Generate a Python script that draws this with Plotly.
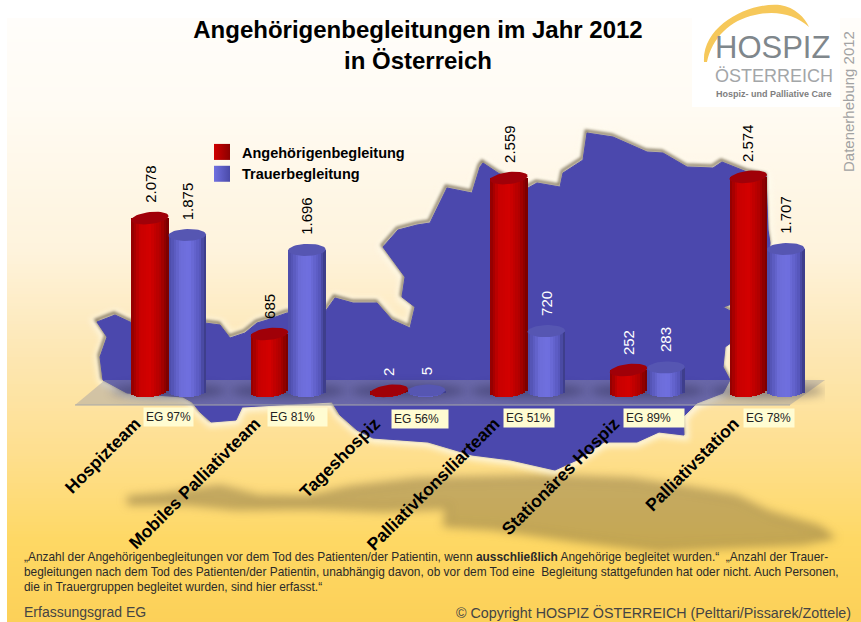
import math
import plotly.graph_objects as go

# ---- data ----
categories = ["Hospizteam", "Mobiles Palliativteam", "Tageshospiz",
              "Palliativkonsiliarteam", "Stationäres Hospiz", "Palliativstation"]
angehoerige = [2078, 685, 2, 2559, 252, 2574]
trauer = [1875, 1696, 5, 720, 283, 1707]
erfassungsgrad = [97, 81, 56, 51, 89, 78]
series_names = ["Angehörigenbegleitung", "Trauerbegleitung"]

title_text = "Angehörigenbegleitungen im Jahr 2012<br>in Österreich"
note_lines = [
    "„Anzahl der Angehörigenbegleitungen vor dem Tod des Patienten/der Patientin, wenn <b>ausschließlich</b> Angehörige begleitet wurden.“  „Anzahl der Trauer-",
    "begleitungen nach dem Tod des Patienten/der Patientin, unabhängig davon, ob vor dem Tod eine  Begleitung stattgefunden hat oder nicht. Auch Personen,",
    "die in Trauergruppen begleitet wurden, sind hier erfasst.“",
]

# ---- canvas / plot frame ----
W, H = 861, 622
ML, MR, MT, MB = 75, 36, 100, 217
PW, PH = W - ML - MR, H - MT - MB
FONT = "Liberation Sans"

def px(x):
    return (x - ML) / PW
def py(y):
    return 1 - (y - MT) / PH

# map outline and its shadow on the ground (backdrop artwork, canvas pixels)
map_outline = [(97,322),(115,315),(130,322),(150,330),(205,323),(220,325),(230,338),(245,333),(257,323),
    (267,320),(287,313),(325,312),(335,298),(353,303),(377,303),(392,320),(410,328),(415,307),(402,297),
    (405,277),(383,247),(398,230),(417,225),(430,223),(447,188),(472,193),(480,167),(483,163),(498,173),
    (528,188),(537,183),(560,187),(563,173),(583,160),(587,133),(613,137),(647,152),(663,153),(687,167),
    (713,168),(722,162),(747,172),(766,176),(768,230),(770,243),(765,300),(735,303),(723,307),(732,312),
    (735,340),(725,347),(723,367),(730,380),(723,393),(697,403),(683,417),(684,435),(659,432),(637,442),
    (604,442),(577,460),(555,470),(511,460),(472,455),(428,442),(373,438),(357,430),(340,415),(332,402),
    (242,407),(236,420),(211,422),(200,412),(192,402),(183,397),(127,393),(103,380),(100,357),(107,337)]
ground_shadow = [(129,498),(165,495),(220,487),(258,497),(307,498),(351,488),(417,480),(549,477),(632,480),
    (697,490),(736,497),(769,513),(818,527),(832,537),(802,543),(714,547),(659,550),(577,540),(494,528),
    (445,525),(448,507),(384,510),(307,507),(236,508),(187,503),(129,503)]
floor_plane = [(75,405),(105,380),(825,380),(790,405)]
axis_line = [(75,405),(790,405)]

def path(points, dx=0, dy=0, close=True):
    return "M" + "L".join(f"{px(x+dx):.5f},{py(y+dy):.5f}" for x, y in points) + ("Z" if close else "")

def mix(stops, t):
    for (a, ca), (b, cb) in zip(stops, stops[1:]):
        if t <= b:
            f = (t - a) / (b - a) if b > a else 0
            c = [round(ca[k] + (cb[k] - ca[k]) * f) for k in range(3)]
            return f"rgb({c[0]},{c[1]},{c[2]})"
    c = stops[-1][1]
    return f"rgb({c[0]},{c[1]},{c[2]})"

shapes = []
blur = {}
def rect(x0, y0, x1, y1, color):
    shapes.append(dict(type="rect", xref="paper", yref="paper", x0=px(x0), x1=px(x1), y0=py(y0), y1=py(y1),
                       fillcolor=color, line_width=0, layer="below"))
def free(d, fill, line=None, lw=0, radius=None):
    if radius:
        blur[len(shapes)] = radius
    shapes.append(dict(type="path", xref="paper", yref="paper", path=d, layer="below", fillcolor=fill,
                       line=dict(color=line or "rgba(0,0,0,0)", width=lw)))

# background
bg_stops = [(18,(255,253,250)),(106,(255,251,243)),(250,(254,243,220)),(350,(253,231,180)),(450,(254,223,143)),
            (540,(254,216,100)),(622,(252,208,88))]
for y in range(18, 622, 3):
    rect(7, y, W, y + 3.5, mix(bg_stops, y))
rect(692, 0, 840, 107, "#FFFFFF")

# soft ground shadow
free(path(ground_shadow), "rgba(120,100,60,0.42)", "rgba(120,100,60,0.42)", 4, radius=5)

# map with halo
free(path(map_outline), "rgba(255,252,238,0.75)", "rgba(255,252,238,0.75)", 10, radius=3)
free(path(map_outline, -1, -2), "rgba(0,0,0,0)", "rgba(96,82,56,0.75)", 3, radius=1.5)
free(path(map_outline), "#4B48AD", "#4B48AD", 1)

# floor plane and axis line
free(path(floor_plane), "rgba(150,150,165,0.42)")
free(path(axis_line, close=False), "rgba(0,0,0,0)", "#A8A8A8", 1)

# ---- scales of the value axis ----
PX_PER_UNIT = 0.0832
Y_TOP = (391 - MT) / PX_PER_UNIT
Y_BOTTOM = (391 - (H - MB)) / PX_PER_UNIT
X_LEFT = (ML - 168.5) / 119.7
X_RIGHT = (W - MR - 168.5) / 119.7
BAR_W = 37.5 / 119.7
ELL = 6 / PX_PER_UNIT

red_stops = [(0,(150,0,0)),(.2,(200,0,0)),(.5,(210,0,0)),(.8,(175,0,0)),(1,(125,0,0))]
blue_stops = [(0,(78,78,172)),(.3,(108,108,216)),(.55,(112,112,224)),(.85,(88,88,190)),(1,(62,62,140))]
series = [
    (angehoerige, -0.5, red_stops, "#A00008", 2 / PX_PER_UNIT, series_names[0], "#D00000", "#8A0000"),
    (trauer, 0.5, blue_stops, "#5656B2", 0.5 / PX_PER_UNIT, series_names[1], "#7070E0", "#4A4AA8"),
]

xs = list(range(len(categories)))
fig = go.Figure()

# soft shadows under the cylinders
for i in xs:
    blur[len(shapes)] = 5
    shapes.append(dict(type="circle", xref="x", yref="y", layer="below",
                       x0=i - 0.48, x1=i + 0.48, y0=-80, y1=80,
                       fillcolor="rgba(30,30,60,0.38)", line_width=0))

N = 15
for values, side, stops, cap_col, tilt, name, c1, c2 in series:
    for k in range(N):
        u0 = -1 + 2 * k / N
        uc = u0 + 1 / N
        sag = -ELL * math.sqrt(max(0, 1 - uc * uc)) + tilt * uc
        fig.add_trace(go.Bar(
            x=xs, y=[v - sag for v in values], base=[sag] * len(values),
            offset=side * BAR_W + u0 * BAR_W / 2,
            width=BAR_W / N * 1.15,
            marker=dict(color=mix(stops, k / (N - 1)), line_width=0),
            showlegend=False, hoverinfo="skip"))
    for i, v in zip(xs, values):
        ts = [2 * math.pi * t / 40 for t in range(41)]
        cx = i + side * BAR_W
        fig.add_trace(go.Scatter(
            x=[cx + BAR_W / 2 * math.cos(t) for t in ts],
            y=[v + ELL * math.sin(t) + tilt * math.cos(t) for t in ts],
            mode="lines", fill="toself", fillcolor=cap_col, line=dict(width=0),
            showlegend=False, hoverinfo="skip"))
    fig.add_trace(go.Scatter(
        x=[None], y=[None], mode="markers", name=name,
        marker=dict(symbol="square", size=16, color=c1,
                    gradient=dict(type="horizontal", color=c2), line_width=0)))

# value labels
annotations = []
on_map = {(0, 2), (1, 2), (0, 4), (1, 4), (1, 3)}
for s, (values, side, *_rest) in enumerate(series):
    for i, v in zip(xs, values):
        annotations.append(dict(
            x=i + side * BAR_W, y=v, xref="x", yref="y", yshift=13,
            text=f"{v:,}".replace(",", "."), showarrow=False, textangle=-90,
            xanchor="center", yanchor="bottom",
            font=dict(family=FONT, size=15, color="#FFFFFF" if (s, i) in on_map else "#000000")))

# EG labels
eg_boxes = [(143, 192, 407), (267, 326, 407), (391, 447, 409), (503, 553, 408), (623, 683, 408), (743, 793, 408)]
for eg, (x0, x1, y0) in zip(erfassungsgrad, eg_boxes):
    annotations.append(dict(
        x=px(x0), y=py(y0), xref="paper", yref="paper", xanchor="left", yanchor="top",
        text=f"EG {eg}%", showarrow=False, width=x1 - x0 - 4, height=14, align="left", borderpad=2,
        bgcolor="#FFFCD2", font=dict(family=FONT, size=12, color="#222222")))

def label(x, y, text, size, color, anchor="left", angle=0, weight=None, yanchor="middle", family=FONT):
    annotations.append(dict(x=px(x), y=py(y), xref="paper", yref="paper", xanchor=anchor, yanchor=yanchor,
                            text=text, showarrow=False, textangle=angle,
                            font=dict(family=family, size=size, color=color, weight=weight or 400)))

for line, y in zip(note_lines, (557, 572, 587)):
    label(22, y, line, 11.9, "#2A2A2A")
label(22, 612, "Erfassungsgrad EG", 14, "#444444")
label(853, 612, "© Copyright HOSPIZ ÖSTERREICH (Pelttari/Pissarek/Zottele)", 14.3, "#444444", anchor="right")

# logo
shapes.append(dict(type="path", xref="paper", yref="paper", layer="below", fillcolor="#F6C85A", line_width=0,
    path=f"M{px(704)},{py(62)} C{px(702)},{py(25)} {px(750)},{py(2)} {px(780)},{py(5)} "
         f"C{px(795)},{py(7)} {px(805)},{py(18)} {px(809)},{py(27)} "
         f"C{px(795)},{py(14)} {px(775)},{py(10)} {px(755)},{py(15)} "
         f"C{px(730)},{py(20)} {px(712)},{py(38)} {px(707)},{py(62)} Z"))
label(713, 48, "HOSPIZ", 31, "#7F878C")
label(713, 76, "ÖSTERREICH", 18, "#A3A6A8")
label(714, 94, "Hospiz- und Palliative Care", 9, "#7E7E7E", weight=700)
label(848, 102, "Datenerhebung 2012", 15, "#A2A2A2", anchor="center", angle=-90)

fig.update_layout(
    width=W, height=H, margin=dict(l=ML, r=MR, t=MT, b=MB, pad=0),
    paper_bgcolor="#FFFFFF", plot_bgcolor="rgba(0,0,0,0)",
    barmode="overlay", bargap=0,
    title=dict(text=title_text, x=418 / W, xanchor="center", y=1 - 38 / H, yanchor="middle",
               font=dict(family=FONT, size=24, color="#000000", weight=700)),
    xaxis=dict(range=[X_LEFT, X_RIGHT], tickmode="array", tickvals=xs, ticktext=categories,
               tickangle=-45, ticklabelshift=-33, ticklabelstandoff=4, ticks="",
               tickfont=dict(family=FONT, size=17.5, color="#000000", weight=700),
               showgrid=False, zeroline=False, showline=False),
    yaxis=dict(range=[Y_BOTTOM, Y_TOP], visible=False, showgrid=False, zeroline=False),
    legend=dict(x=px(202), y=py(136), xanchor="left", yanchor="top", bgcolor="rgba(0,0,0,0)",
                font=dict(family=FONT, size=14.5, color="#000000", weight=700), tracegroupgap=0),
    shapes=shapes, annotations=annotations, hovermode=False,
)

blur_js = ";".join(
    f"document.querySelectorAll(\".shapelayer path[data-index='{i}']\").forEach(function(e){{e.style.filter='blur({r}px)';}})"
    for i, r in blur.items())
fig.write_html("out.html", config=dict(displayModeBar=False),
               post_script="document.body.style.margin='0';document.documentElement.style.overflow='hidden';" + blur_js)
